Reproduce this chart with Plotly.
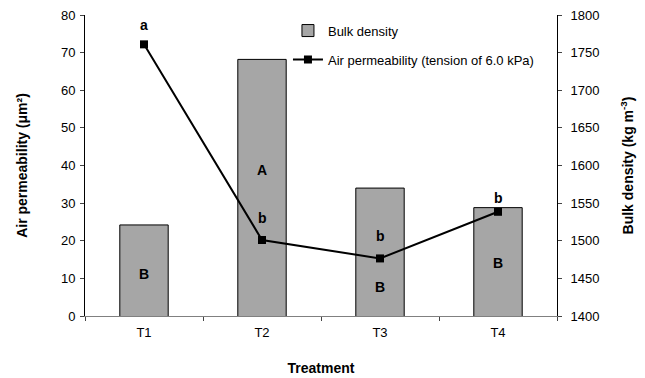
import plotly.graph_objects as go

treatments = ["T1", "T2", "T3", "T4"]
bulk_density = [1521, 1741, 1570, 1544]
air_perm = [72.2, 20.2, 15.3, 27.7]
upper_letters = ["B", "A", "B", "B"]
upper_letter_y = [1456, 1594, 1439, 1470]
lower_letters = ["a", "b", "b", "b"]
lower_shift = [19, 22, 22, 14]

font = "Liberation Sans, Arial, sans-serif"

fig = go.Figure()
fig.add_trace(go.Bar(
    x=treatments, y=bulk_density, name="Bulk density", yaxis="y",
    marker=dict(color="#a6a6a6", line=dict(color="black", width=1)),
    width=0.41, legendgroup="g1",
))
fig.add_trace(go.Scatter(
    x=treatments, y=air_perm, name="Air permeability (tension of 6.0 kPa)", yaxis="y2",
    mode="lines+markers", line=dict(color="black", width=2),
    marker=dict(symbol="square", size=8, color="black"), legendgroup="g2",
))

annotations = []
for t, l, yv in zip(treatments, upper_letters, upper_letter_y):
    annotations.append(dict(x=t, y=yv, yref="y", text="<b>%s</b>" % l, showarrow=False,
                            font=dict(size=14, color="black", family=font)))
for t, l, yv, s in zip(treatments, lower_letters, air_perm, lower_shift):
    annotations.append(dict(x=t, y=yv, yref="y2", text="<b>%s</b>" % l, showarrow=False,
                            yshift=s, font=dict(size=14, color="black", family=font)))

fig.update_layout(
    width=637, height=370,
    margin=dict(l=77, r=88, t=7, b=62, autoexpand=False),
    plot_bgcolor="white", paper_bgcolor="white",
    font=dict(family=font, size=13, color="black"),
    showlegend=True,
    legend=dict(x=0.43, y=0.9, xanchor="left", yanchor="middle", bgcolor="rgba(0,0,0,0)",
                font=dict(size=13), tracegroupgap=9, traceorder="grouped"),
    xaxis=dict(type="category", tickson="boundaries", ticks="outside", ticklen=4,
               showline=True, linecolor="#808080", linewidth=1, showgrid=False,
               automargin=False, ticklabelstandoff=4,
               title=dict(text="<b>Treatment</b>", font=dict(size=14), standoff=24),
               range=[-0.5, 3.5]),
    yaxis=dict(range=[1400, 1800], dtick=50, side="right", ticks="outside",
               ticklen=4, showline=True, linecolor="black", linewidth=1, showgrid=False,
               zeroline=False, automargin=False, ticklabelstandoff=6, ticklabeloverflow="allow",
               title=dict(text="<b>Bulk density (kg m<sup>-3</sup>)</b>", font=dict(size=14), standoff=24)),
    yaxis2=dict(range=[0, 80], dtick=10, side="left", overlaying="y", ticks="outside",
                ticklen=4, showline=True, linecolor="black", linewidth=1, showgrid=False,
                zeroline=False, automargin=False, ticklabelstandoff=2, ticklabeloverflow="allow",
                title=dict(text="<b>Air permeability (μm²)</b>", font=dict(size=14), standoff=30)),
    annotations=annotations,
)
fig.write_html("out.html")
